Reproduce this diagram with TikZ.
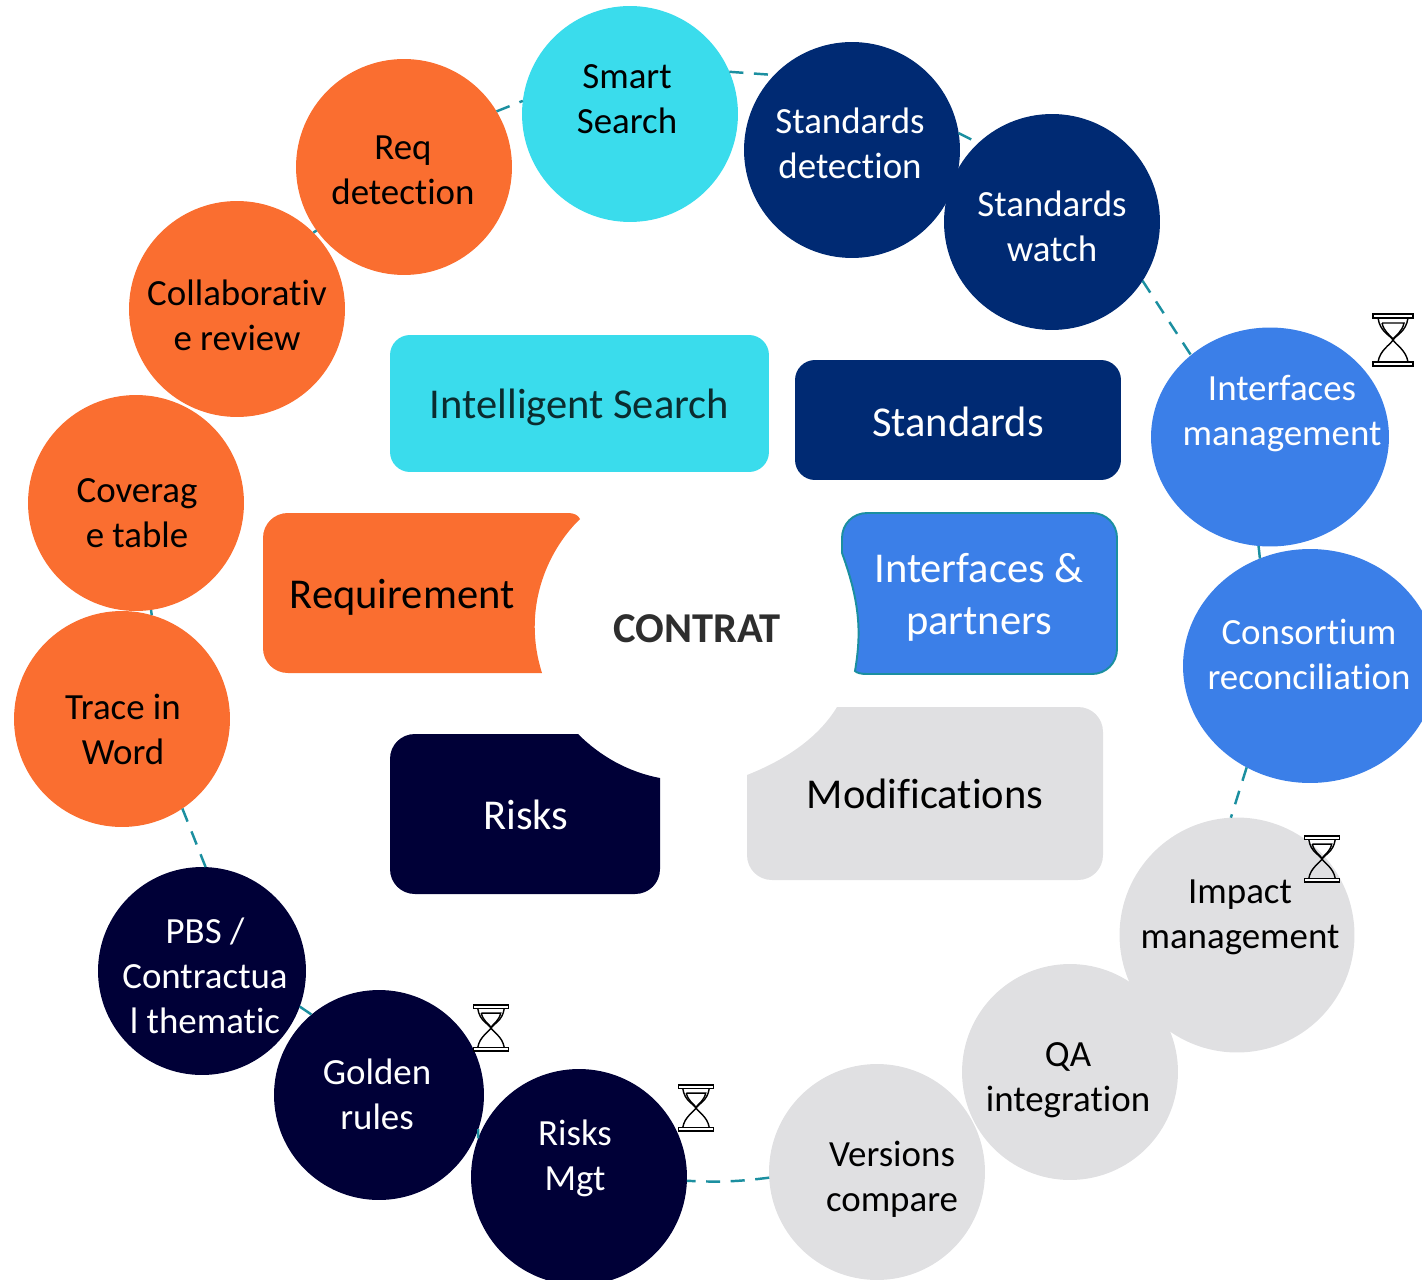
\documentclass[tikz,border=0pt]{standalone}
\usepackage{fontspec}
\setmainfont[Ligatures=NoCommon]{Carlito}
\usetikzlibrary{shapes.geometric}
\definecolor{orangereq}{HTML}{FA6E30}
\definecolor{cyansearch}{HTML}{3ADCEC}
\definecolor{navystd}{HTML}{002A73}
\definecolor{bluepart}{HTML}{3B7FE8}
\definecolor{darkrisk}{HTML}{000037}
\definecolor{greymod}{HTML}{E0E0E2}
\definecolor{tealring}{HTML}{1B8FA0}
\tikzset{
	ball/.style={circle,inner sep=0pt,outer sep=0pt,minimum size=4.32cm},
	egg/.style={ellipse,inner sep=0pt,outer sep=0pt},
	balltxt/.style={align=center,font=\fontsize{21}{25.6}\selectfont},
	bigtxt/.style={align=center,font=\fontsize{24.2}{29.5}\selectfont},
	box/.style={rectangle,rounded corners=0.4cm,inner sep=0pt,outer sep=0pt},
	ringarc/.style={draw=tealring,line width=1.4pt,dash pattern=on 8pt off 6pt},
	hourglass/.pic={
		\draw[line width=0.8pt,fill=white] (-20,-26) rectangle (20,-22);
		\draw[line width=0.8pt,fill=white] (-20,22) rectangle (20,26);
		\draw[line width=0.8pt] (-15,-22) .. controls (-13,-8) and (-3,-5) .. (0,0) .. controls (3,5) and (13,10) .. (15,22);
		\draw[line width=0.8pt] (15,-22) .. controls (13,-8) and (3,-5) .. (0,0) .. controls (-3,5) and (-13,10) .. (-15,22);
		\draw[line width=0.8pt] (-11,-17) -- (11,-17) .. controls (9,-8) and (3,-5) .. (0,-1) .. controls (-3,-5) and (-9,-8) .. (-11,-17);
	}
}
\begin{document}
\begin{tikzpicture}[x=0.02cm,y=-0.02cm]
	\useasboundingbox (0,0) rectangle (1422,1280);
	% ring of circles
	\node[ball,fill=cyansearch] (smart) at (630,114) {};
	\node[ball,fill=navystd] (stddet) at (852,150) {};
	\node[ball,fill=navystd] (stdwatch) at (1052,222) {};
	\node[egg,fill=bluepart,minimum width=4.76cm,minimum height=4.38cm] (ifmgmt) at (1270,437) {};
	\node[egg,fill=bluepart,minimum width=5.08cm,minimum height=4.68cm] (consort) at (1310,666) {};
	\node[ball,fill=greymod,minimum size=4.7cm] (impact) at (1237,935) {};
	\node[ball,fill=greymod] (qa) at (1070,1072) {};
	\node[ball,fill=greymod] (versions) at (877,1172) {};
	\node[ball,fill=darkrisk] (risksmgt) at (579,1177) {};
	\node[ball,fill=darkrisk,minimum size=4.2cm] (golden) at (379,1095) {};
	\node[ball,fill=darkrisk,minimum size=4.16cm] (pbs) at (202,971) {};
	\node[ball,fill=orangereq] (trace) at (122,719) {};
	\node[ball,fill=orangereq] (coverage) at (136,503) {};
	\node[ball,fill=orangereq] (collab) at (237,309) {};
	\node[ball,fill=orangereq] (reqdet) at (404,167) {};
	\node[balltxt,text=black] (smarttxt) at (627,99) {Smart\\Search};
	\node[balltxt,text=white] (stddettxt) at (850,143) {Standards\\detection};
	\node[balltxt,text=white] (stdwatchtxt) at (1052,226) {Standards\\watch};
	\node[balltxt,text=white] (ifmgmttxt) at (1282,414) {Interfaces\\management};
	\node[balltxt,text=white] (consorttxt) at (1309,654) {Consortium\\reconciliation};
	\node[balltxt,text=black] (impacttxt) at (1240,917) {Impact\\management};
	\node[balltxt,text=black] (qatxt) at (1068,1080) {QA\\integration};
	\node[balltxt,text=black] (versionstxt) at (892,1179) {Versions\\compare};
	\node[balltxt,text=white] (risksmgttxt) at (575,1158) {Risks\\Mgt};
	\node[balltxt,text=white] (goldentxt) at (377,1094) {Golden\\rules};
	\node[balltxt,text=white] (pbstxt) at (205,976) {PBS /\\Contractua\\l thematic};
	\node[balltxt,text=black] (tracetxt) at (123,729) {Trace in\\Word};
	\node[balltxt,text=black] (coveragetxt) at (137,513) {Coverag\\e table};
	\node[balltxt,text=black] (collabtxt) at (237,315) {Collaborativ\\e review};
	\node[balltxt,text=black] (reqdettxt) at (403,170) {Req\\detection};
	% dashes between the circles
	\draw[ringarc] (reqdet.216) -- (collab.45);
	\draw[ringarc] (reqdet.31) -- (smart.173);
	\draw[ringarc] (smart.23) -- (stddet.136);
	\draw[ringarc] (stddet.9) -- (stdwatch.133);
	\draw[ringarc] (stdwatch.-33) -- (ifmgmt.134);
	\draw[ringarc] (ifmgmt.264) -- (consort.115);
	\draw[ringarc] (consort.238) -- (impact.93);
	\draw[ringarc] (versions.183) to[bend left=5] (risksmgt.-2);
	\draw[ringarc] (golden.-19) -- (risksmgt.159);
	\draw[ringarc] (pbs.-20) -- (golden.130);
	\draw[ringarc] (trace.-56) -- (pbs.88);
	\draw[ringarc] (coverage.-82) -- (trace.74);
	% middle shapes
	\node[box,fill=cyansearch,text=black!80!cyansearch,minimum width=7.58cm,minimum height=2.74cm,text height=0.75cm,text depth=0.15cm,bigtxt] (search) at (579.5,403.5) {Intelligent Search};
	\node[box,fill=navystd,text=white,minimum width=6.52cm,minimum height=2.4cm,text height=0.68cm,text depth=0cm,bigtxt] (standards) at (958,420) {Standards};
	\fill[orangereq] (263,538) .. controls (263,524) and (274,513) .. (288,513) -- (568,513) .. controls (574,513) and (578,515) .. (580,519) .. controls (546,552) and (522,610) .. (542,673) -- (288,673) .. controls (274,673) and (263,662) .. (263,648) -- cycle;
	\node[bigtxt,text=black] (requirement) at (402,597) {Requirement};
	\draw[tealring,line width=1.1pt,fill=bluepart] (842,553) -- (842,538) .. controls (842,524) and (853,513) .. (867,513) -- (1092,513) .. controls (1106,513) and (1117,524) .. (1117,538) -- (1117,649) .. controls (1117,663) and (1106,674) .. (1092,674) -- (867,674) .. controls (861,674) and (857,673) .. (855,671) .. controls (861,635) and (861,605) .. (842,553) -- cycle;
	\node[bigtxt,text=white] (partners) at (979,597) {Interfaces \&\\partners};
	\fill[darkrisk] (390,759) .. controls (390,745) and (401,734) .. (415,734) -- (578,734) .. controls (600,756) and (628,772) .. (660,778) -- (660,869) .. controls (660,883) and (649,894) .. (635,894) -- (415,894) .. controls (401,894) and (390,883) .. (390,869) -- cycle;
	\node[bigtxt,text=white] (risks) at (526,815) {Risks};
	\fill[greymod] (837,707) -- (1078,707) .. controls (1092,707) and (1103,718) .. (1103,732) -- (1103,855) .. controls (1103,869) and (1092,880) .. (1078,880) -- (772,880) .. controls (758,880) and (747,869) .. (747,855) -- (747,775) .. controls (790,758) and (820,735) .. (837,707) -- cycle;
	\node[bigtxt,text=black] (modifications) at (925,794) {Modifications};
	\node[font=\fontsize{24.2}{29.5}\selectfont\bfseries,text=black!82] (contrat) at (697,629) {CONTRAT};
	% hourglasses
	\pic at (1393,340) {hourglass};
	\pic[scale=0.88] at (1322,859) {hourglass};
	\pic[scale=0.88] at (491,1028) {hourglass};
	\pic[scale=0.88] at (696,1108) {hourglass};
\end{tikzpicture}
\end{document}
